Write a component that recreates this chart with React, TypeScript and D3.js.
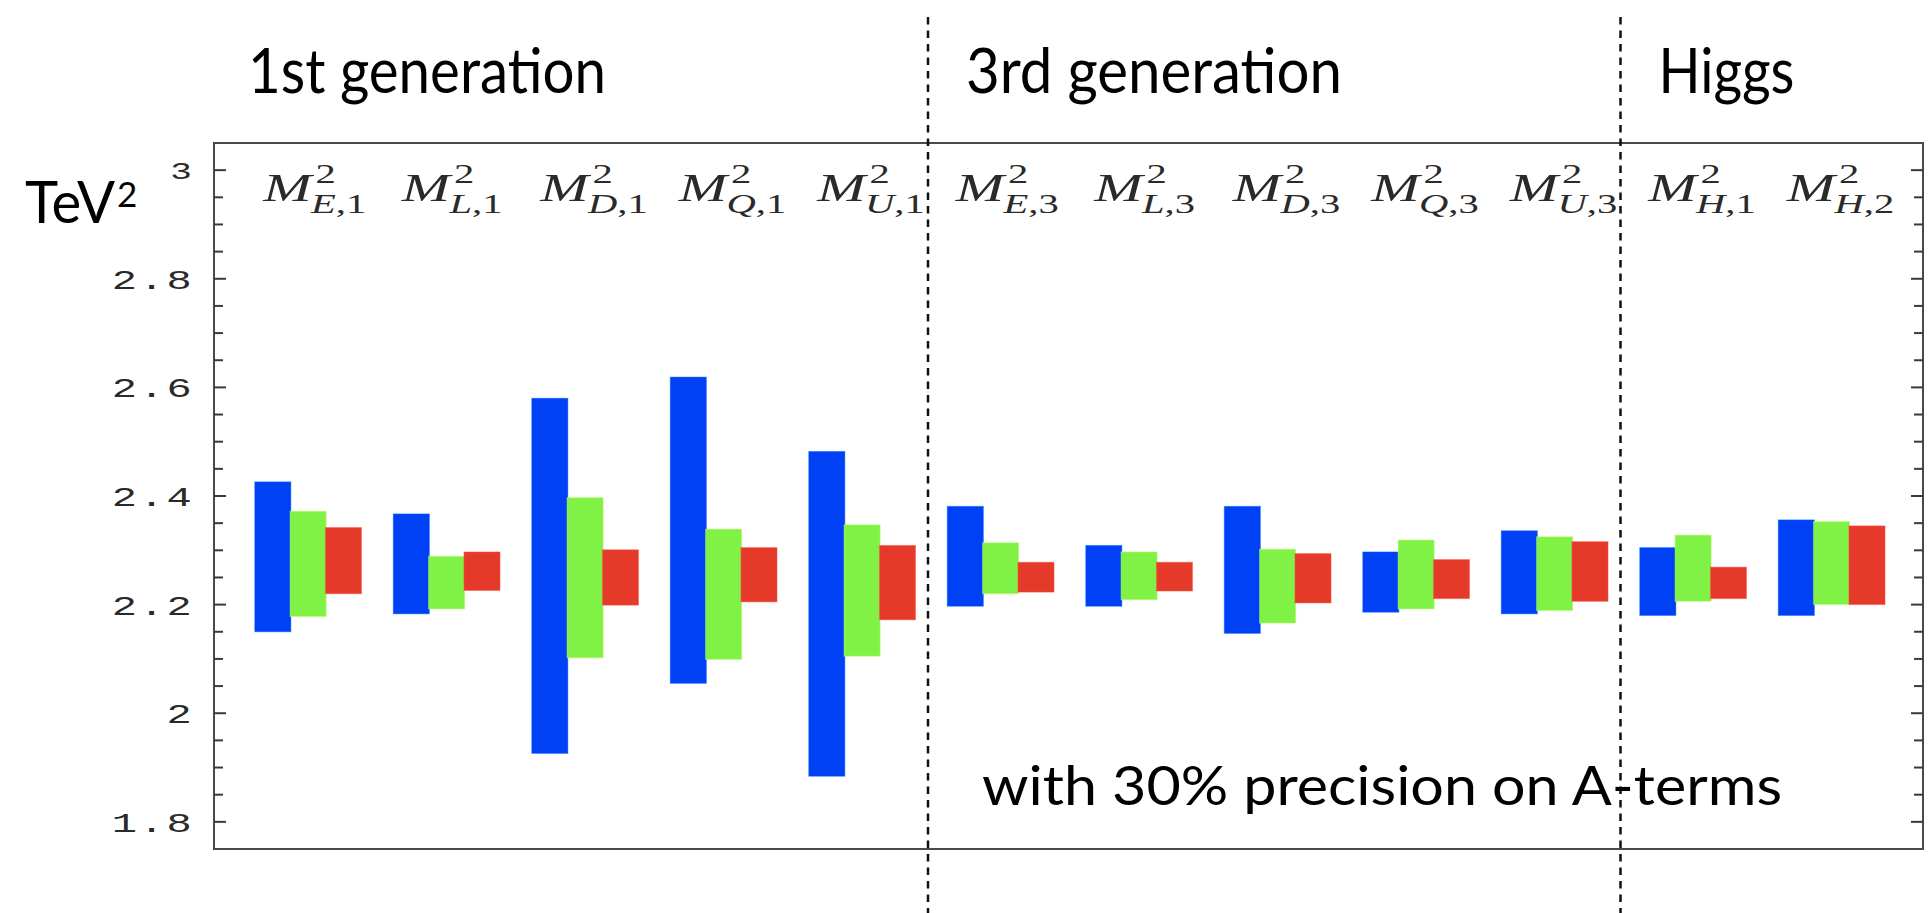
import React from "react";
import * as d3 from "d3";

// Soft-mass parameters, one band per parameter
const categories = ["E1", "L1", "D1", "Q1", "U1", "E3", "L3", "D3", "Q3", "U3", "H1", "H2"];
const fieldLetters = ["E", "L", "D", "Q", "U", "E", "L", "D", "Q", "U", "H", "H"];
const indexLabels = ["1", "1", "1", "1", "1", "3", "3", "3", "3", "3", "1", "2"];

// Allowed ranges (TeV^2), lower and upper edge of each bar
const blueLow = [2.15, 2.183, 1.926, 2.055, 1.884, 2.197, 2.197, 2.147, 2.186, 2.183, 2.18, 2.18];
const blueHigh = [2.426, 2.367, 2.58, 2.619, 2.482, 2.381, 2.309, 2.381, 2.297, 2.336, 2.305, 2.356];
const greenLow = [2.178, 2.192, 2.102, 2.099, 2.105, 2.22, 2.209, 2.166, 2.192, 2.189, 2.206, 2.2];
const greenHigh = [2.372, 2.289, 2.397, 2.339, 2.347, 2.314, 2.297, 2.302, 2.319, 2.325, 2.328, 2.353];
const redLow = [2.22, 2.226, 2.199, 2.205, 2.172, 2.223, 2.225, 2.203, 2.211, 2.206, 2.211, 2.2];
const redHigh = [2.342, 2.297, 2.301, 2.305, 2.309, 2.278, 2.278, 2.294, 2.283, 2.316, 2.269, 2.345];

const seriesNames = ["blue", "green", "red"];
const seriesColors = ["#0041f5", "#80f246", "#e5392a"];

const yMajorTicks = [1.8, 2.0, 2.2, 2.4, 2.6, 2.8, 3.0];
const yMinorStep = 0.05;

const sectionLabels = ["1st generation", "3rd generation", "Higgs"];
const sectionStarts = ["E1", "E3", "H1"];
const sectionWidths = [358, 376, 136];

const footnote = "with 30% precision on A-terms";

const W = 1928;
const H = 913;
const frame = { left: 214, right: 1923, top: 143, bottom: 849 };
const STRETCH = 1.45; // the plot's own lettering is drawn horizontally widened

export default function App() {
  const y = d3.scaleLinear().domain([1.75, 3.05]).range([frame.bottom, frame.top]);
  const x = d3.scaleBand<string>().domain(categories).range([238.5, 1900.5]).padding(0);
  const inner = d3.scaleBand<string>().domain(seriesNames).range([-53, 53]).padding(0);
  const barW = inner.bandwidth() + 0.8;

  const lows = [blueLow, greenLow, redLow];
  const highs = [blueHigh, greenHigh, redHigh];

  const minorTicks = d3.range(1.8, 3.0 + 1e-9, yMinorStep);
  const center = (c: string) => (x(c) as number) + x.bandwidth() / 2;

  const dividerXs = sectionStarts.slice(1).map((c) => (x(c) as number) - 3);
  const headingXs = [frame.left + 34, ...dividerXs.map((d) => d + 38)];

  const sans = "Lato, 'Open Sans', sans-serif";
  const serif = "'Liberation Serif', 'DejaVu Serif', serif";
  const mono = "'Liberation Mono', 'DejaVu Sans Mono', monospace";

  return (
    <svg
      width={W}
      height={H}
      style={{ position: "absolute", left: 0, top: 0, background: "#fff" }}
      xmlns="http://www.w3.org/2000/svg"
    >
      <rect x={0} y={0} width={W} height={H} fill="#fff" />

      {/* bars */}
      {categories.map((c, i) => (
        <g key={c}>
          {seriesNames.map((s, k) => {
            const col = seriesColors[k];
            const x0 = center(c) + (inner(s) as number);
            return (
              <rect
                key={s}
                x={x0}
                y={y(highs[k][i])}
                width={barW}
                height={y(lows[k][i]) - y(highs[k][i])}
                fill={col}
                stroke={d3.color(col)!.brighter(1.3).formatHex()}
                strokeOpacity={0.45}
                strokeWidth={1}
              />
            );
          })}
        </g>
      ))}

      {/* frame */}
      <rect
        x={frame.left}
        y={frame.top}
        width={frame.right - frame.left}
        height={frame.bottom - frame.top}
        fill="none"
        stroke="#4a4a4a"
        strokeWidth={2}
      />

      {/* y ticks, both sides */}
      {minorTicks.map((t, i) => {
        const major = yMajorTicks.some((m) => Math.abs(m - t) < 1e-6);
        const len = major ? 12 : 9;
        const yy = y(t);
        return (
          <g key={i} stroke="#3a3a3a" strokeWidth={2}>
            <line x1={frame.left} x2={frame.left + len} y1={yy} y2={yy} />
            <line x1={frame.right} x2={frame.right - len} y1={yy} y2={yy} />
          </g>
        );
      })}

      {/* y tick labels */}
      {yMajorTicks.map((t) => (
        <g key={t} transform={`translate(194, ${y(t)}) scale(${STRETCH + 0.05}, 1)`}>
          <text
            textAnchor="end"
            dy="0.36em"
            fontFamily={mono}
            fontSize={t === 3 ? 24 : 28}
            letterSpacing={1.5}
            fill="#2a2a2a"
          >
            {String(+t.toFixed(1))}
          </text>
        </g>
      ))}

      {/* parameter labels */}
      {categories.map((c, i) => (
        <g
          key={c}
          transform={`translate(${center(c) + 12}, 0) scale(${STRETCH}, 1)`}
          fill="#2a2a2a"
          fontFamily={serif}
        >
          <text x={-39} y={201} fontSize={40} fontStyle="italic">
            M
          </text>
          <text x={-3} y={183} fontSize={28}>
            2
          </text>
          <text x={-6} y={213} fontSize={28}>
            <tspan fontStyle="italic">{fieldLetters[i]}</tspan>
            <tspan>,</tspan>
            <tspan>{indexLabels[i]}</tspan>
          </text>
        </g>
      ))}

      {/* section dividers */}
      {dividerXs.map((dx, i) => (
        <line
          key={i}
          x1={dx}
          x2={dx}
          y1={17}
          y2={H}
          stroke="#111"
          strokeWidth={2.5}
          strokeDasharray="7.5 6"
        />
      ))}

      {/* section headings */}
      {sectionLabels.map((s, i) => (
        <text
          key={s}
          x={headingXs[i]}
          y={93}
          fontFamily={sans}
          fontSize={62}
          textLength={sectionWidths[i]}
          lengthAdjust="spacingAndGlyphs"
          fill="#000"
        >
          {s}
        </text>
      ))}

      {/* unit */}
      <text x={25} y={223} fontFamily={sans} fontSize={58} textLength={90} lengthAdjust="spacingAndGlyphs" fill="#000">
        TeV
      </text>
      <text x={117} y={207} fontFamily={sans} fontSize={35} fill="#000">
        2
      </text>

      {/* note */}
      <text
        x={982}
        y={805}
        fontFamily={sans}
        fontSize={55}
        textLength={800}
        lengthAdjust="spacingAndGlyphs"
        fill="#000"
      >
        {footnote}
      </text>
    </svg>
  );
}
